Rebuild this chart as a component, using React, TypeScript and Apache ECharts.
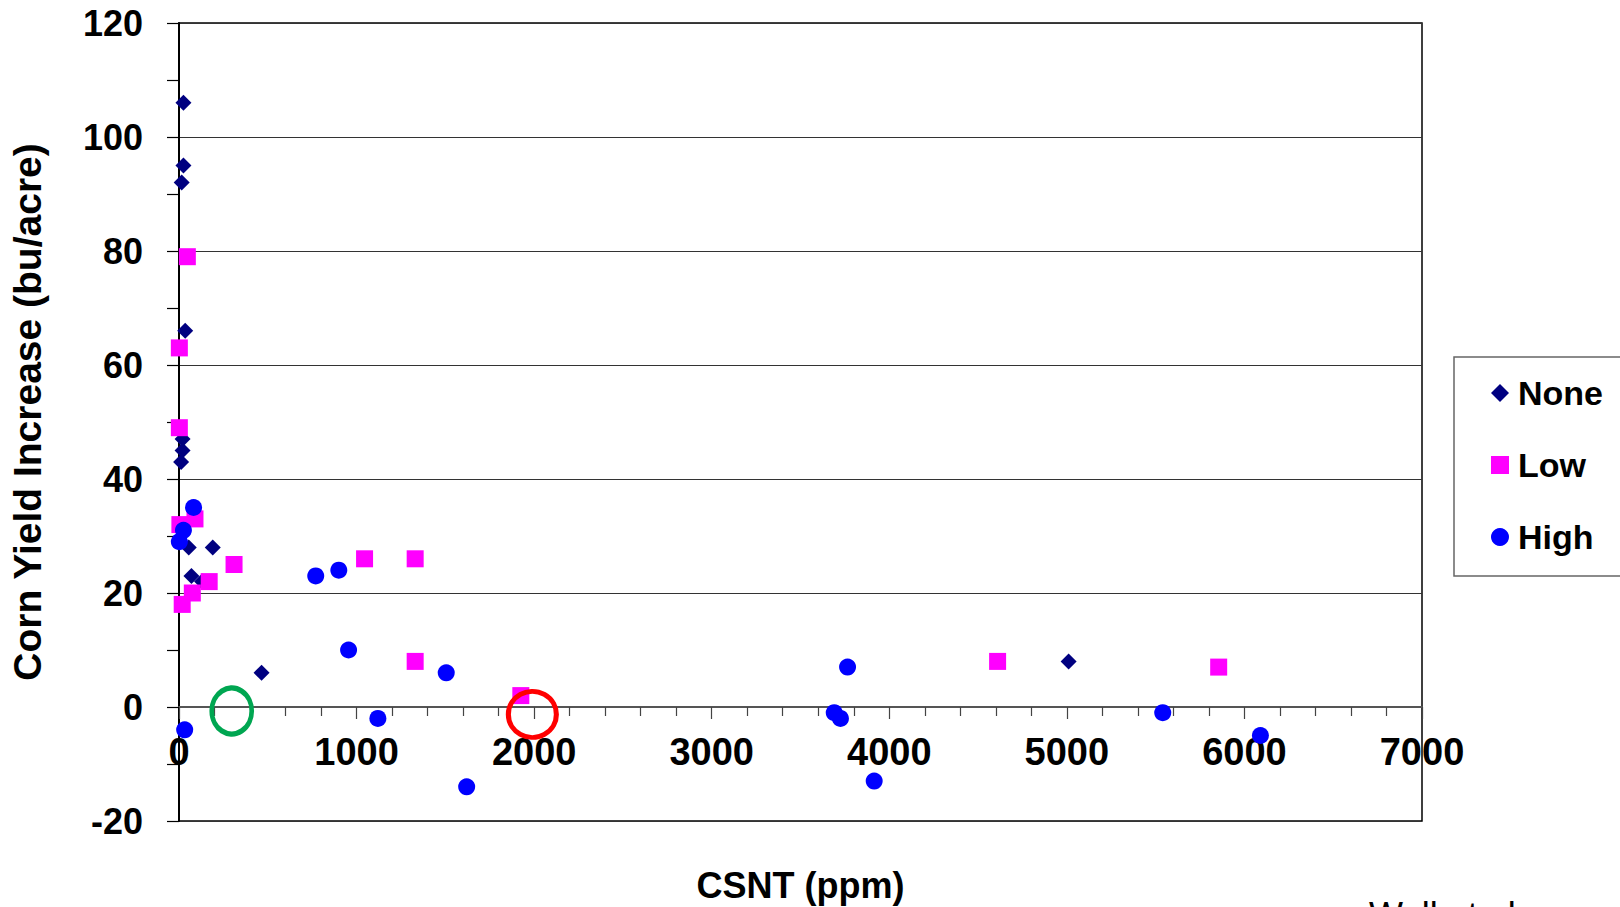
import React, { useEffect, useRef } from "react";
import * as echarts from "echarts";

// CSNT (ppm), Corn yield increase (bu/acre)
const noneData: number[][] = [
  [25, 106], [25, 95], [15, 92], [35, 66], [20, 47], [20, 45], [12, 43],
  [55, 28], [190, 28], [70, 23], [130, 22], [465, 6], [5010, 8],
];
const lowData: number[][] = [
  [47, 79], [2, 63], [2, 49], [5, 32], [90, 33], [18, 18], [75, 20],
  [170, 22], [310, 25], [1045, 26], [1330, 26], [1330, 8], [1925, 2],
  [4610, 8], [5855, 7],
];
const highData: number[][] = [
  [32, -4], [2, 29], [25, 31], [82, 35], [770, 23], [900, 24], [955, 10],
  [1120, -2], [1505, 6], [1620, -14], [3690, -1], [3725, -2], [3765, 7],
  [3915, -13], [5540, -1], [6090, -5],
];
// annotation ellipses
const greenMark: number[][] = [[297, -0.7]];
const redMark: number[][] = [[1990, -1.3]];

const seriesNames = ["None", "Low", "High"];
const xName = "CSNT (ppm)";
const yName = "Corn Yield Increase (bu/acre)";
const citation = "Wall et al.";

const FONT = "'Liberation Sans', Arial, sans-serif";

export default function App() {
  const ref = useRef<HTMLDivElement>(null);
  useEffect(() => {
    if (!ref.current) return;
    const chart = echarts.init(ref.current, null, { renderer: "svg" });
    chart.setOption({
      animation: false,
      backgroundColor: "#fff",
      textStyle: { fontFamily: FONT },
      grid: {
        left: 179,
        right: 198,
        top: 23,
        bottom: 86,
        show: true,
        borderColor: "#000",
        borderWidth: 1.5,
        containLabel: false,
        outerBoundsMode: "none",
      },
      xAxis: {
        type: "value",
        min: 0,
        max: 7000,
        interval: 1000,
        name: xName,
        nameLocation: "middle",
        nameGap: 46,
        nameTextStyle: { fontSize: 36, fontWeight: "bold", color: "#000", fontFamily: FONT },
        axisLine: { show: true, onZero: true, lineStyle: { color: "#555", width: 2 } },
        axisTick: { show: true, inside: false, length: 12, lineStyle: { color: "#444", width: 1.2 } },
        minorTick: { show: true, splitNumber: 5, length: 9, lineStyle: { color: "#444", width: 1.2 } },
        axisLabel: {
          fontSize: 38,
          fontWeight: "bold",
          color: "#000",
          margin: -88,
          fontFamily: FONT,
          formatter: (v: number) => String(v),
        },
        splitLine: { show: false },
      },
      yAxis: {
        type: "value",
        min: -20,
        max: 120,
        interval: 20,
        name: yName,
        nameLocation: "middle",
        nameGap: 132,
        nameRotate: 90,
        nameTextStyle: {
          fontSize: 39,
          fontWeight: "bold",
          color: "#000",
          fontFamily: FONT,
          padding: [0, 0, 0, 20],
        },
        axisLine: { show: true, onZero: false, lineStyle: { color: "#000", width: 2 } },
        axisTick: { show: true, inside: false, length: 12, lineStyle: { color: "#000", width: 1.2 } },
        minorTick: { show: true, splitNumber: 2, length: 12, lineStyle: { color: "#000", width: 1.2 } },
        axisLabel: {
          fontSize: 36,
          fontWeight: "bold",
          color: "#000",
          margin: 36,
          fontFamily: FONT,
          formatter: (v: number) => String(v),
        },
        splitLine: { show: true, lineStyle: { color: "#333", width: 1.2 } },
      },
      legend: {
        orient: "vertical",
        left: 1491,
        top: 375,
        padding: 0,
        itemGap: 36,
        itemWidth: 18,
        itemHeight: 18,
        data: seriesNames,
        textStyle: {
          fontSize: 34,
          fontWeight: "bold",
          color: "#000",
          lineHeight: 36,
          fontFamily: FONT,
          padding: [0, 0, 0, 4],
        },
      },
      graphic: [
        {
          type: "rect",
          shape: { x: 1454, y: 357, width: 220, height: 219 },
          style: { fill: "#fff", stroke: "#666", lineWidth: 1.5 },
          z: 0,
        },
        {
          type: "text",
          x: 1369,
          y: 897,
          style: { text: citation, fontSize: 36, fontFamily: FONT, fill: "#000", textVerticalAlign: "top" },
        },
      ],
      series: [
        {
          name: seriesNames[0],
          type: "scatter",
          symbol: "diamond",
          symbolSize: 16,
          itemStyle: { color: "#000080", opacity: 1 },
          data: noneData,
        },
        {
          name: seriesNames[1],
          type: "scatter",
          symbol: "rect",
          symbolSize: 17,
          itemStyle: { color: "#FF00FF", opacity: 1 },
          data: lowData,
        },
        {
          name: seriesNames[2],
          type: "scatter",
          symbol: "circle",
          symbolSize: 17,
          itemStyle: { color: "#0000FF", opacity: 1 },
          data: highData,
        },
        {
          name: "green-mark",
          type: "scatter",
          symbol: "circle",
          symbolSize: [40, 46],
          itemStyle: { color: "rgba(0,0,0,0)", borderColor: "#00A651", borderWidth: 5, opacity: 1 },
          data: greenMark,
          z: 5,
        },
        {
          name: "red-mark",
          type: "scatter",
          symbol: "circle",
          symbolSize: [48, 46],
          itemStyle: { color: "rgba(0,0,0,0)", borderColor: "#FF0000", borderWidth: 5, opacity: 1 },
          data: redMark,
          z: 5,
        },
      ],
    });
    return () => chart.dispose();
  }, []);
  return (
    <div
      ref={ref}
      style={{ position: "fixed", left: 0, top: 0, width: 1620, height: 907 }}
    />
  );
}
